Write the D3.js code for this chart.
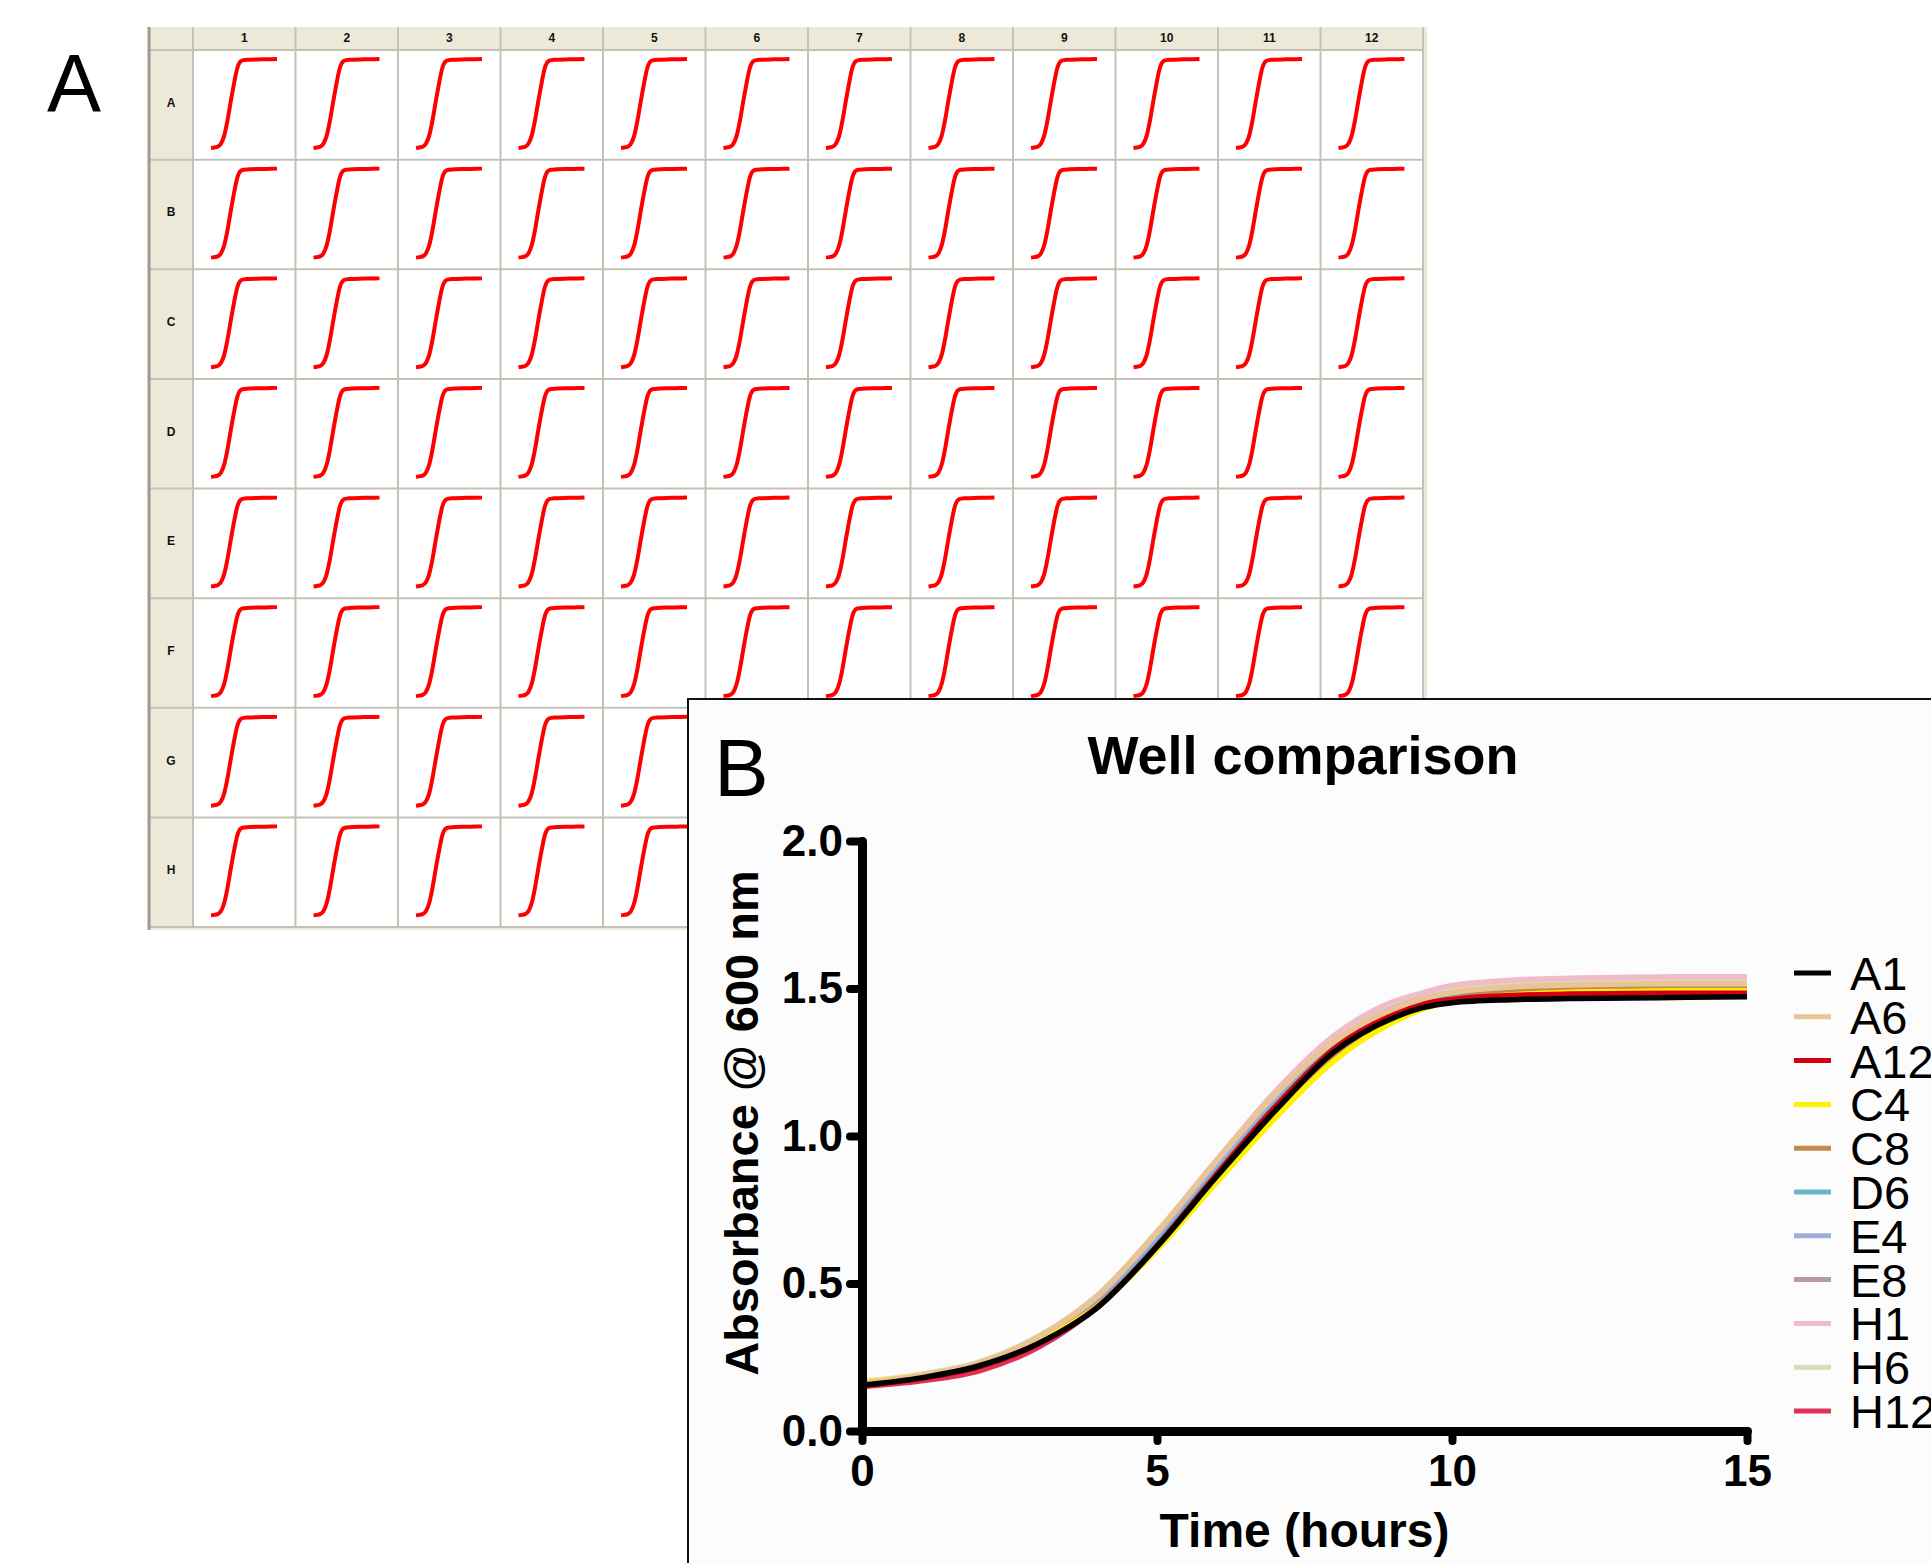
<!DOCTYPE html>
<html>
<head>
<meta charset="utf-8">
<script src="https://cdnjs.cloudflare.com/ajax/libs/d3/7.8.5/d3.min.js"></script>
<style>
  body { margin: 0; background: #fff; }
  svg text { font-family: "Liberation Sans", Arial, sans-serif; }
</style>
</head>
<body>
<div id="figure"></div>
<script>
// ---- panel A : plate reader overview ----
var plateRows = ["A", "B", "C", "D", "E", "F", "G", "H"];
var plateCols = ["1", "2", "3", "4", "5", "6", "7", "8", "9", "10", "11", "12"];

// thumbnail trace drawn in every well (plate software view, 0-20 h)
var plateHours = [0, 1, 2, 3, 4, 5, 6, 7, 8, 9, 10, 11, 12, 14, 16, 18, 20];
var plateOD = [0.150, 0.158, 0.170, 0.215, 0.340, 0.575, 0.870, 1.150, 1.385, 1.485, 1.503, 1.508, 1.510, 1.513, 1.515, 1.517, 1.520];

// ---- panel B : well comparison ----
var timeHours = [0, 1, 2, 3, 4, 5, 6, 7, 8, 9, 9.5, 10, 11, 12, 13, 14, 15];
var wellNames = ["A1", "A6", "A12", "C4", "C8", "D6", "E4", "E8", "H1", "H6", "H12"];
var wellColors = ["#000000", "#ebc496", "#d40010", "#fff200", "#c08a50", "#6bb5c8", "#a0aedc", "#b49aaa", "#f0bcc8", "#dcdab8", "#dc3258"];

var odA1  = [0.155, 0.180, 0.222, 0.298, 0.420, 0.625, 0.860, 1.085, 1.285, 1.400, 1.435, 1.452, 1.462, 1.466, 1.468, 1.470, 1.472];
var odA6  = [0.162, 0.188, 0.232, 0.320, 0.460, 0.675, 0.915, 1.140, 1.320, 1.430, 1.465, 1.487, 1.505, 1.512, 1.515, 1.516, 1.516];
var odA12 = [0.155, 0.178, 0.218, 0.296, 0.422, 0.628, 0.868, 1.098, 1.295, 1.415, 1.447, 1.463, 1.476, 1.481, 1.483, 1.484, 1.484];
var odC4  = [0.165, 0.188, 0.228, 0.305, 0.425, 0.615, 0.840, 1.060, 1.255, 1.385, 1.430, 1.455, 1.478, 1.487, 1.490, 1.492, 1.492];
var odC8  = [0.160, 0.184, 0.226, 0.303, 0.428, 0.620, 0.848, 1.070, 1.265, 1.392, 1.438, 1.465, 1.487, 1.496, 1.500, 1.502, 1.502];
var odD6  = [0.156, 0.181, 0.223, 0.302, 0.430, 0.638, 0.876, 1.105, 1.302, 1.422, 1.457, 1.478, 1.495, 1.502, 1.505, 1.506, 1.506];
var odE4  = [0.157, 0.182, 0.225, 0.305, 0.435, 0.645, 0.885, 1.115, 1.312, 1.432, 1.465, 1.485, 1.500, 1.507, 1.510, 1.511, 1.511];
var odE8  = [0.158, 0.183, 0.224, 0.304, 0.433, 0.642, 0.882, 1.112, 1.310, 1.430, 1.463, 1.484, 1.500, 1.508, 1.512, 1.513, 1.513];
var odH1  = [0.160, 0.185, 0.228, 0.315, 0.455, 0.670, 0.915, 1.150, 1.340, 1.455, 1.485, 1.510, 1.528, 1.535, 1.538, 1.540, 1.540];
var odH6  = [0.168, 0.192, 0.235, 0.322, 0.462, 0.675, 0.910, 1.135, 1.325, 1.440, 1.475, 1.497, 1.515, 1.522, 1.525, 1.526, 1.526];
var odH12 = [0.150, 0.170, 0.205, 0.285, 0.425, 0.640, 0.890, 1.125, 1.320, 1.440, 1.470, 1.492, 1.508, 1.514, 1.516, 1.518, 1.518];

var xTicks = [0, 5, 10, 15];
var yTicks = [0, 0.5, 1.0, 1.5, 2.0];

var allOD = [odA1, odA6, odA12, odC4, odC8, odD6, odE4, odE8, odH1, odH6, odH12];
var wells = wellNames.map(function (name, i) {
  return {
    name: name,
    color: wellColors[i],
    values: timeHours.map(function (t, j) { return { t: t, od: allOD[i][j] }; })
  };
});

var W = 1931, H = 1563;

var svg = d3.select("#figure").append("svg")
  .attr("width", W)
  .attr("height", H)
  .style("display", "block");

svg.append("rect").attr("width", W).attr("height", H).attr("fill", "#fff");

// ============ panel A ============
var plate = svg.append("g").attr("class", "plate");

var colX = d3.scaleBand().domain(plateCols).range([193, 1423]);
var rowY = d3.scaleBand().domain(plateRows).range([50, 927]);

// beige frame (headers)
plate.append("rect")
  .attr("x", 148).attr("y", 27)
  .attr("width", 1427 - 148).attr("height", 930 - 27)
  .attr("fill", "#ece9d8");

plate.append("rect")
  .attr("x", colX.range()[0]).attr("y", rowY.range()[0])
  .attr("width", colX.range()[1] - colX.range()[0])
  .attr("height", rowY.range()[1] - rowY.range()[0])
  .attr("fill", "#fff");

// grid lines
plate.selectAll(".vline")
  .data(plateCols.concat(["end"]))
  .enter().append("line")
  .attr("x1", function (d) { return d == "end" ? colX.range()[1] : colX(d); })
  .attr("x2", function (d) { return d == "end" ? colX.range()[1] : colX(d); })
  .attr("y1", 27)
  .attr("y2", rowY.range()[1])
  .attr("stroke", "#c4c2b6")
  .attr("stroke-width", 2);

plate.selectAll(".hline")
  .data(plateRows.concat(["end"]))
  .enter().append("line")
  .attr("y1", function (d) { return d == "end" ? rowY.range()[1] : rowY(d); })
  .attr("y2", function (d) { return d == "end" ? rowY.range()[1] : rowY(d); })
  .attr("x1", 150)
  .attr("x2", colX.range()[1])
  .attr("stroke", "#c4c2b6")
  .attr("stroke-width", 2);

// dark left edge
plate.append("line")
  .attr("x1", 149).attr("x2", 149)
  .attr("y1", 27).attr("y2", 930)
  .attr("stroke", "#9d9b8e")
  .attr("stroke-width", 3);

plate.selectAll(".colLabel")
  .data(plateCols)
  .enter().append("text")
  .attr("x", function (d) { return colX(d) + colX.bandwidth() / 2; })
  .attr("y", 42)
  .attr("text-anchor", "middle")
  .attr("font-size", 12)
  .attr("font-weight", "bold")
  .attr("fill", "#111")
  .text(function (d) { return d; });

plate.selectAll(".rowLabel")
  .data(plateRows)
  .enter().append("text")
  .attr("x", 171)
  .attr("y", function (d) { return rowY(d) + rowY.bandwidth() / 2 + 2; })
  .attr("text-anchor", "middle")
  .attr("font-size", 12)
  .attr("font-weight", "bold")
  .attr("fill", "#111")
  .text(function (d) { return d; });

// one thumbnail per well
var cells = [];
plateRows.forEach(function (r) {
  plateCols.forEach(function (c) { cells.push({ row: r, col: c }); });
});

plate.selectAll(".thumb")
  .data(cells)
  .enter().append("path")
  .attr("class", "thumb")
  .attr("fill", "none")
  .attr("stroke", "#ff0000")
  .attr("stroke-width", 4)
  .attr("d", function (d) {
    var tx = d3.scaleLinear().domain([0, 20]).range([colX(d.col) + 18, colX(d.col) + 84]);
    var ty = d3.scaleLinear().domain([0.15, 1.52]).range([rowY(d.row) + 98, rowY(d.row) + 9]);
    return d3.line()
      .x(function (p) { return tx(p[0]); })
      .y(function (p) { return ty(p[1]); })
      .curve(d3.curveMonotoneX)(d3.zip(plateHours, plateOD));
  });

svg.append("text")
  .attr("x", 47).attr("y", 111)
  .attr("font-size", 81)
  .text("A");

// ============ panel B ============
var pb = svg.append("g").attr("class", "panelB");

pb.append("rect")
  .attr("x", 688).attr("y", 699)
  .attr("width", W - 688 + 20).attr("height", H - 699 + 20)
  .attr("fill", "#fcfcfc")
  .attr("stroke", "#111")
  .attr("stroke-width", 2);

pb.append("text")
  .attr("x", 714).attr("y", 796)
  .attr("font-size", 82)
  .text("B");

pb.append("text")
  .attr("x", 1303).attr("y", 774)
  .attr("text-anchor", "middle")
  .attr("font-size", 54)
  .attr("font-weight", "bold")
  .text("Well comparison");

var x = d3.scaleLinear().domain([0, 15]).range([862, 1747]);
var y = d3.scaleLinear().domain([0, 2]).range([1431, 841]);

var line = d3.line()
  .x(function (d) { return x(d.t); })
  .y(function (d) { return y(d.od); })
  .curve(d3.curveMonotoneX);

// last listed well drawn first so A1 ends up on top
pb.selectAll(".well")
  .data(wells.slice().reverse())
  .enter().append("path")
  .attr("class", "well")
  .attr("fill", "none")
  .attr("stroke", function (d) { return d.color; })
  .attr("stroke-width", 5.5)
  .attr("d", function (d) { return line(d.values); });

var yAxis = d3.axisLeft(y)
  .tickValues(yTicks)
  .tickFormat(d3.format(".1f"))
  .tickSize(12)
  .tickPadding(7)
  .tickSizeOuter(0);

var xAxis = d3.axisBottom(x)
  .tickValues(xTicks)
  .tickFormat(d3.format("d"))
  .tickSize(10)
  .tickPadding(14)
  .tickSizeOuter(0);

var gx = pb.append("g")
  .attr("class", "x axis")
  .attr("transform", "translate(0," + y(0) + ")")
  .call(xAxis);

var gy = pb.append("g")
  .attr("class", "y axis")
  .attr("transform", "translate(" + x(0) + ",0)")
  .call(yAxis);

[gx, gy].forEach(function (g) {
  g.attr("font-family", null).attr("font-size", 44).attr("font-weight", "bold");
  g.select(".domain")
    .attr("stroke", "#000")
    .attr("stroke-width", 9)
    .attr("stroke-linecap", "round")
    .attr("stroke-linejoin", "round");
  g.selectAll(".tick line")
    .attr("stroke", "#000")
    .attr("stroke-width", 8)
    .attr("stroke-linecap", "round");
  g.selectAll(".tick text").attr("fill", "#000");
});

pb.append("text")
  .attr("transform", "translate(758," + 1123 + ") rotate(-90)")
  .attr("text-anchor", "middle")
  .attr("font-size", 47)
  .attr("font-weight", "bold")
  .text("Absorbance @ 600 nm");

pb.append("text")
  .attr("x", (x.range()[0] + x.range()[1]) / 2)
  .attr("y", 1547)
  .attr("text-anchor", "middle")
  .attr("font-size", 48)
  .attr("font-weight", "bold")
  .text("Time (hours)");

// legend
var legY = d3.scalePoint().domain(wellNames).range([973, 1411]);

var leg = pb.selectAll(".legend")
  .data(wells)
  .enter().append("g")
  .attr("class", "legend")
  .attr("transform", function (d) { return "translate(0," + legY(d.name) + ")"; });

leg.append("line")
  .attr("x1", 1794).attr("x2", 1831)
  .attr("stroke", function (d) { return d.color; })
  .attr("stroke-width", 5);

leg.append("text")
  .attr("x", 1850)
  .attr("dy", "0.36em")
  .attr("font-size", 47)
  .text(function (d) { return d.name; });
</script>
</body>
</html>
